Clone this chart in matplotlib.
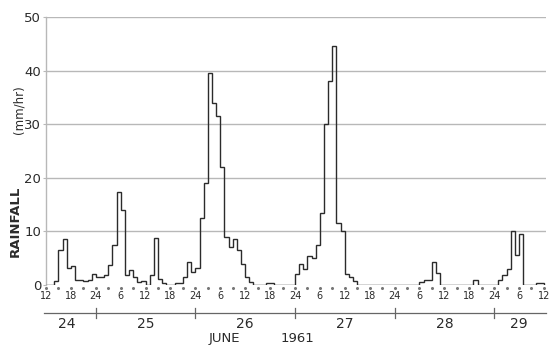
import matplotlib
matplotlib.use("Agg")
import matplotlib.pyplot as plt
import numpy as np

plt.rcParams['font.family'] = ['Liberation Sans Narrow', 'DejaVu Sans']

# hourly rainfall (mm/hr), starting at 12h on 24 June 1961
june24_pm = [0, 0, 0.8, 6.5, 8.5, 3.2, 3.6, 1.0, 1.0, 0.7, 1.0, 2.0]
june25 = [1.5, 1.5, 1.8, 3.8, 7.5, 17.3, 14.0, 1.8, 2.8, 1.5, 0.5, 0.8,
          0, 1.8, 8.8, 1.2, 0.4, 0, 0, 0.3, 0.3, 1.5, 4.3, 2.5]
june26 = [3.2, 12.5, 19.0, 39.5, 34.0, 31.5, 22.0, 9.0, 7.0, 8.5, 6.5, 4.0,
          1.5, 0.5, 0, 0, 0, 0.3, 0.3, 0, 0, 0, 0, 0]
june27 = [2.0, 4.0, 3.0, 5.5, 5.0, 7.5, 13.5, 30.0, 38.0, 44.5, 11.5, 10.0,
          2.0, 1.5, 0.7, 0, 0, 0, 0, 0, 0, 0, 0, 0]
june28 = [0, 0, 0, 0, 0, 0, 0.5, 1.0, 1.0, 4.2, 2.3, 0,
          0, 0, 0, 0, 0, 0, 0, 1.0, 0, 0, 0, 0]
june29_am = [0, 0.9, 1.8, 2.9, 10.0, 5.6, 9.5, 0, 0, 0, 0.4, 0.4]

hour_labels = ["12", "18", "24", "6", "12", "18", "24", "6", "12", "18", "24",
               "6", "12", "18", "24", "6", "12", "18", "24", "6", "12"]
days = ["24", "25", "26", "27", "28", "29"]
day_label_pos = [5, 24, 48, 72, 96, 114]
midnights = [12, 36, 60, 84, 108]
y_ticks = [0, 10, 20, 30, 40, 50]

rain = np.array(june24_pm + june25 + june26 + june27 + june28 + june29_am)
edges = np.arange(len(rain) + 1)

INK = "#2b2b2b"
GRID = "#b8b8b8"

fig = plt.figure(figsize=(5.53, 3.49), dpi=100)
ax = fig.add_axes([0.0832, 0.1834, 0.9041, 0.768])

for y in y_ticks[1:]:
    ax.axhline(y, color=GRID, lw=1.0, zorder=1)

ax.stairs(rain, edges, baseline=0, color=INK, lw=1.0, zorder=3)

# faint 3-hourly dots along the zero line
dots = np.arange(0, len(rain) + 1, 3)
ax.plot(dots, np.zeros_like(dots) - 0.6, ls="none", marker="o", ms=1.2,
        color="#777777", zorder=2, clip_on=False)

ax.set_xlim(0, 120.5)
ax.set_ylim(0, 50)

for side in ["top", "right", "bottom"]:
    ax.spines[side].set_visible(False)
ax.spines["left"].set_color(GRID)
ax.spines["left"].set_linewidth(1.0)

ax.set_yticks(y_ticks)
ax.set_yticklabels([str(v) for v in y_ticks], fontsize=9.5, color=INK)
ax.tick_params(axis="y", length=2, color=GRID, pad=1.5)
ax.set_xticks([])

trans = ax.get_xaxis_transform()
for i, lab in enumerate(hour_labels):
    ax.text(i * 6, -0.042, lab, transform=trans, ha="center", va="center",
            fontsize=7, color=INK, clip_on=False)

# day scale under the hour labels
ax.plot([-0.5, 120.5], [-0.105, -0.105], transform=trans, color="#666666",
        lw=0.9, clip_on=False)
for m in midnights:
    ax.plot([m, m], [-0.085, -0.125], transform=trans, color="#666666",
            lw=0.9, clip_on=False)
for x, d in zip(day_label_pos, days):
    ax.text(x, -0.145, d, transform=trans, ha="center", va="center",
            fontsize=10, color=INK, clip_on=False)

ax.text(43, -0.2, "JUNE", transform=trans, ha="center", va="center",
        fontsize=9.5, color=INK, clip_on=False)
ax.text(60.5, -0.2, "1961", transform=trans, ha="center", va="center",
        fontsize=9.5, color=INK, clip_on=False)

fig.text(15 / 553, 1 - 221 / 349, "RAINFALL", rotation=90, ha="center",
         va="center", fontsize=9.5, fontweight="bold", color=INK)
fig.text(19 / 553, 1 - 110 / 349, "(mm/hr)", rotation=90, ha="center",
         va="center", fontsize=8.5, color=INK)

fig.savefig("out.png", dpi=100, facecolor="white")
